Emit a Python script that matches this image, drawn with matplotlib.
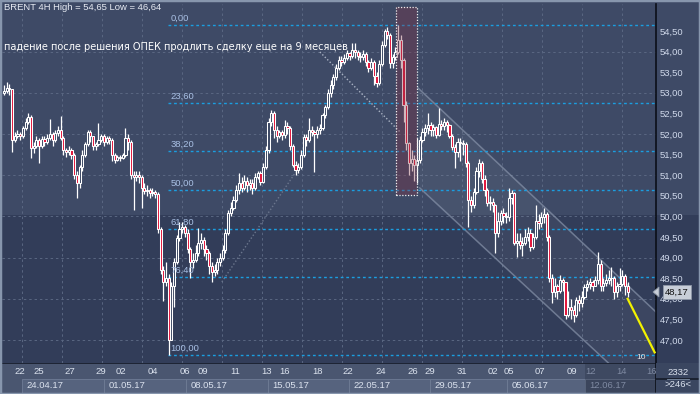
import numpy as np
import matplotlib
matplotlib.use("Agg")
import matplotlib.pyplot as plt
from matplotlib.patches import Rectangle, Polygon

## BRENT 4H candles
closes = [
    53.05, 53.12, 53.08, 51.85, 51.95, 52.0, 51.95, 52.15, 52.3, 52.42,
    51.65, 51.72, 51.85, 51.7, 51.88, 51.8, 51.9, 52.0, 51.85, 52.02,
    52.1, 51.9, 51.6, 51.56, 51.6, 51.5, 51.0, 50.8, 51.2, 51.5,
    51.75, 52.05, 51.95, 51.7, 51.75, 51.85, 51.95, 51.8, 51.9, 51.85,
    51.5, 51.37, 51.45, 51.42, 51.5, 51.9, 51.8, 51.0, 50.95, 51.0,
    50.96, 50.7, 50.62, 50.65, 50.57, 50.6, 50.55, 49.7, 48.7, 48.4,
    48.5, 47.0, 48.3, 48.9, 49.48, 49.7, 49.74, 49.6, 49.2, 48.9,
    48.95, 49.1, 49.35, 49.43, 49.2, 49.11, 48.8, 48.65, 48.7, 48.9,
    49.0, 49.18, 49.6, 50.08, 50.2, 50.4, 50.64, 50.81, 50.7, 50.85,
    50.75, 50.8, 50.7, 50.95, 51.05, 50.83, 51.2, 51.61, 52.3, 52.51,
    52.1, 51.95, 52.05, 51.98, 52.2, 52.15, 51.7, 51.25, 51.13, 51.2,
    51.5, 51.93, 51.85, 52.1, 52.05, 52.0, 52.1, 52.15, 52.45, 52.66,
    53.0, 53.2, 53.38, 53.6, 53.8, 53.75, 53.85, 53.96, 53.9, 54.05,
    53.98, 53.9, 53.87, 53.95, 53.75, 53.6, 53.75, 53.4, 53.24, 53.7,
    54.16, 54.5, 54.4, 53.72, 53.87, 54.0, 54.28, 53.8, 52.7, 51.78,
    51.3, 51.4, 51.25, 51.37, 51.85, 52.05, 52.15, 52.22, 52.1, 52.17,
    51.98, 52.25, 52.2, 52.3, 52.22, 51.95, 51.69, 51.56, 51.8, 51.78,
    51.75, 51.3, 50.4, 50.27, 50.6, 51.1, 51.3, 50.9, 50.64, 50.32,
    50.35, 50.27, 49.6, 49.9, 50.08, 50.0, 49.98, 50.45, 50.57, 49.35,
    49.4, 49.3, 49.35, 49.5, 49.6, 49.25, 49.5, 49.9, 49.85, 49.98,
    50.05, 49.5, 48.5, 48.16, 48.3, 48.2, 48.45, 48.4, 47.61, 47.8,
    47.73, 47.6, 47.97, 47.9, 48.05, 48.29, 48.35, 48.41, 48.3, 48.45,
    48.85, 48.3, 48.38, 48.45, 48.5, 48.5, 48.16, 48.3, 48.35, 48.55, 48.3, 48.17,
]
highs = [
    53.2, 53.26, 53.22, 53.1, 52.05, 52.1, 52.05, 52.2, 52.4, 52.5,
    52.45, 51.8, 51.95, 51.9, 51.95, 51.95, 52.0, 52.36, 52.05, 52.1,
    52.2, 52.43, 51.95, 51.65, 51.7, 51.65, 51.55, 51.1, 51.25, 51.6,
    51.8, 52.1, 52.1, 51.95, 51.8, 52.26, 52.0, 52.0, 51.95, 51.95,
    51.9, 51.55, 51.5, 51.5, 51.55, 52.14, 52.0, 51.85, 51.1, 51.1,
    51.1, 51.0, 50.8, 50.75, 50.7, 50.7, 50.65, 50.6, 49.75, 48.8,
    48.9, 48.6, 48.4, 49.0, 49.55, 49.86, 49.86, 49.8, 49.7, 49.25,
    49.1, 49.3, 49.72, 49.6, 49.5, 49.3, 49.15, 48.9, 48.85, 49.0,
    49.1, 49.3, 49.7, 50.15, 50.35, 50.5, 50.75, 51.05, 50.95, 51.0,
    50.95, 50.9, 50.9, 51.05, 51.1, 51.1, 51.3, 51.7, 52.4, 52.58,
    52.55, 52.2, 52.1, 52.1, 52.34, 52.3, 52.2, 51.75, 51.35, 51.3,
    51.6, 52.0, 52.0, 52.39, 52.2, 52.1, 52.2, 52.25, 52.5, 52.7,
    53.1, 53.3, 53.45, 53.7, 53.9, 53.9, 53.95, 54.05, 54.0, 54.2,
    54.2, 54.05, 54.0, 54.05, 54.0, 53.8, 53.85, 53.8, 53.5, 53.8,
    54.25, 54.55, 54.6, 54.45, 53.95, 54.1, 54.65, 54.4, 53.85, 52.8,
    51.8, 51.6, 51.5, 51.9, 51.95, 52.15, 52.25, 52.51, 52.3, 52.25,
    52.2, 52.63, 52.35, 52.4, 52.35, 52.25, 52.0, 51.75, 51.9, 51.9,
    51.85, 51.8, 51.35, 50.5, 50.7, 51.2, 51.4, 51.35, 51.0, 50.7,
    50.5, 50.45, 50.3, 50.1, 50.15, 50.2, 50.1, 50.7, 50.65, 50.6,
    49.6, 49.6, 49.5, 49.7, 49.75, 49.7, 49.6, 50.27, 50.05, 50.1,
    50.2, 50.1, 49.55, 48.6, 48.5, 48.35, 48.57, 48.5, 48.4, 48.2,
    48.0, 47.85, 48.05, 48.1, 48.2, 48.35, 48.45, 48.5, 48.45, 48.55,
    49.14, 48.95, 48.5, 48.6, 48.7, 48.77, 48.55, 48.4, 48.75, 48.7, 48.6, 48.4,
]
lows = [
    52.95, 53.0, 52.95, 51.56, 51.8, 51.9, 51.85, 51.9, 52.1, 52.25,
    51.42, 51.55, 51.65, 51.3, 51.65, 51.7, 51.75, 51.85, 51.7, 51.8,
    51.95, 51.85, 51.5, 51.45, 51.5, 51.4, 50.9, 50.45, 50.7, 51.1,
    51.45, 51.7, 51.8, 51.6, 51.6, 51.7, 51.8, 51.7, 51.75, 51.75,
    51.35, 51.3, 51.35, 51.35, 51.4, 51.45, 51.6, 50.9, 50.16, 50.85,
    50.8, 50.2, 50.55, 50.5, 50.45, 50.5, 50.45, 49.6, 48.6, 47.95,
    48.3, 46.64, 47.1, 47.8, 48.85, 49.4, 49.6, 49.5, 49.1, 48.5,
    48.75, 48.9, 49.05, 49.2, 49.05, 48.95, 48.6, 48.41, 48.55, 48.6,
    48.8, 48.95, 49.1, 49.55, 50.0, 50.15, 50.35, 50.55, 50.6, 50.65,
    50.6, 50.65, 50.55, 50.65, 50.9, 50.75, 50.8, 51.15, 51.55, 52.2,
    51.9, 51.8, 51.9, 51.85, 51.9, 52.0, 51.6, 51.2, 51.0, 51.05,
    51.15, 51.45, 51.7, 51.8, 51.95, 51.08, 51.9, 52.0, 52.1, 52.4,
    52.6, 52.9, 53.1, 53.3, 53.55, 53.65, 53.7, 53.8, 53.8, 53.85,
    53.85, 53.8, 53.75, 53.8, 53.65, 53.5, 53.55, 53.2, 53.15, 53.2,
    53.65, 54.1, 54.3, 53.6, 53.6, 53.8, 53.95, 53.6, 52.3, 51.6,
    51.0, 51.1, 50.85, 50.8, 51.3, 51.8, 51.95, 52.0, 51.95, 51.95,
    51.9, 51.95, 52.1, 52.1, 52.05, 51.9, 51.6, 51.17, 51.45, 51.35,
    51.5, 51.2, 49.74, 50.1, 50.2, 50.55, 50.95, 50.8, 50.5, 50.25,
    50.15, 50.1, 49.1, 49.5, 49.8, 49.85, 49.85, 49.9, 50.3, 49.3,
    49.02, 49.2, 49.05, 49.3, 49.4, 49.15, 49.2, 49.45, 49.7, 49.75,
    49.85, 49.4, 48.4, 47.9, 48.05, 48.0, 48.15, 48.2, 47.5, 47.55,
    47.5, 47.44, 47.55, 47.7, 47.8, 48.0, 48.2, 48.25, 48.2, 48.3,
    48.35, 48.2, 48.2, 48.3, 48.35, 48.3, 48.0, 48.05, 48.2, 48.3, 48.1, 48.05,
]
first_open = 53.0

fib_levels = [0.0, 23.6, 38.2, 50.0, 61.8, 76.4, 100.0]
fib_high, fib_low = 54.65, 46.64

forecast_x = [231, 241]          # yellow projection
forecast_y = [48.0, 46.7]

day_labels = ['22', '25', '27', '29', '02', '04', '06', '09', '11', '13', '16', '18',
              '22', '24', '26', '29', '31', '02', '05', '07', '09', '12', '14', '16']
day_pos = [5.9, 13, 24.4, 35.9, 43.3, 55.2, 67, 73.7, 85.6, 97.4, 104, 116,
           127.4, 139.6, 151.5, 157.8, 169.6, 181, 187, 198.5, 210.4, 217.4, 228.9, 240]
week_labels = ['24.04.17', '01.05.17', '08.05.17', '15.05.17', '22.05.17',
               '29.05.17', '05.06.17', '12.06.17']
week_start = [6.7, 37, 67.4, 97.8, 127.8, 157.8, 186.3, 215.2]
future_start = 215.2

price_ticks = [54.5, 54.0, 53.5, 53.0, 52.5, 52.0, 51.5, 51.0, 50.5, 50.0,
               49.5, 49.0, 48.5, 48.0, 47.5, 47.0]
last_price = 48.17

title = "BRENT 4H High = 54,65 Low = 46,64"
note = "падение после решения ОПЕК продлить сделку еще на 9 месяцев"

## colours
BG_TOP = '#3e4a66'
BG_BOT = '#323d59'
RED = '#e3163c'
FIB = '#1b9ee0'
TXT = '#cfd8ea'

W, H = 700, 394
XMIN, XMAX = -0.74, 241.5
YMIN, YMAX = 46.442, 55.155

def fx(px):
    return px / W

def fy(py):
    return 1 - py / H

fig = plt.figure(figsize=(7, 3.94), dpi=100)
fig.patch.set_facecolor(BG_BOT)

## background bands
bgax = fig.add_axes([0, 0, 1, 1], zorder=-5)
rows = np.zeros((H, 1, 3))
rows[:215] = matplotlib.colors.to_rgb(BG_TOP)
rows[215:] = matplotlib.colors.to_rgb(BG_BOT)
bgax.imshow(rows, extent=[0, 1, 0, 1], aspect='auto', interpolation='nearest')
bgax.axis('off')

ax = fig.add_axes([fx(2), fy(363), fx(654), (363 - 4) / H])
ax.set_facecolor('none')
ax.set_xlim(XMIN, XMAX)
ax.set_ylim(YMIN, YMAX)
for s in ax.spines.values():
    s.set_visible(False)
ax.spines['right'].set_visible(True)
ax.spines['right'].set_color('#0b0f18')
ax.spines['right'].set_linewidth(1.2)
ax.set_xticks([])
ax.yaxis.tick_right()
ax.set_yticks(price_ticks)
ax.set_yticklabels([f"{p:.2f}".replace('.', ',') for p in price_ticks],
                   fontsize=6.8, color=TXT, family='Liberation Sans')
ax.tick_params(axis='y', length=0, pad=3)

## grid
for px in np.arange(22, 656, 40):
    ax.axvline((px - 4) / 2.7, color='#5a6782', lw=0.7, ls=(0, (2.5, 3)), zorder=1)
for p in range(47, 55):
    ax.axhline(p, color='#5a6782', lw=0.7, ls=(0, (2.5, 3)), zorder=1)

## channel
up_line = [(153.3, 53.12), (241.5, 47.68)]
lo_line = [(154.0, 50.69), (241.5, 45.37)]
ax.add_patch(Polygon([up_line[0], up_line[1], lo_line[1], lo_line[0]],
                     closed=True, facecolor='white', alpha=0.05, lw=0, zorder=1.5))
for ln in (up_line, lo_line):
    ax.plot([ln[0][0], ln[1][0]], [ln[0][1], ln[1][1]], color='#8793aa',
            lw=1.1, alpha=0.7, zorder=1.6)

## fan dotted lines
ax.plot([117, 146.7], [53.99, 52.05], color='#aab3c4', lw=1, ls=(0, (1, 1.5)), zorder=2.5)
ax.plot([80.7, 108.1], [48.41, 51.08], color='#6b768d', lw=1, ls=(0, (1, 1.5)), zorder=2.5)

## fibonacci levels
for lvl in fib_levels:
    p = fib_high - lvl / 100 * (fib_high - fib_low)
    ax.plot([60.7, XMAX], [p, p], color=FIB, lw=1, ls=(0, (2, 2)), zorder=2)
    ax.text(61.6, p + 0.05, f"{lvl:.2f}".replace('.', ','), fontsize=6.8,
            color='#a9c0e4', family='Liberation Sans', va='bottom', ha='left', zorder=7)

## candles
c = np.array(closes)
h = np.array(highs)
l = np.array(lows)
o = np.concatenate([[first_open], c[:-1]])
idx = np.arange(len(c))
bull = c >= o
ax.vlines(idx, l, h, color='white', lw=0.9, zorder=3)
ax.bar(idx[bull], (c - o)[bull], bottom=o[bull], width=0.8, color=BG_TOP,
       edgecolor='white', linewidth=0.75, zorder=4)
ax.bar(idx[~bull], (c - o)[~bull], bottom=o[~bull], width=0.8, color=RED,
       edgecolor='white', linewidth=0.75, zorder=4)

## highlighted OPEC bars
ax.add_patch(Rectangle((145.2, 50.52), 7.8, 4.56, facecolor='#813244', alpha=0.35,
                       lw=0, zorder=5))
ax.add_patch(Rectangle((145.2, 50.52), 7.8, 4.56, fill=False, edgecolor='#eeeeee',
                       lw=0.9, ls=(0, (1, 1.3)), zorder=5.5))

## projection
ax.plot(forecast_x, forecast_y, color='#f2f200', lw=1.6, zorder=6, clip_on=False)
ax.text(234.4, 46.5, '10', fontsize=6, color='#e6e6e6', ha='left', va='bottom',
        family='Liberation Sans', zorder=7)

## price tag
fig.text(fx(677), fy(292), f"{last_price:.2f}".replace('.', ','), fontsize=6.8,
         color='#111111', ha='center', va='center', family='Liberation Sans',
         bbox=dict(boxstyle='square,pad=0.25', facecolor='#c8ced8', edgecolor='#8e98a8', lw=0.6))
fig.patches.append(Polygon([[fx(653), fy(292)], [fx(659), fy(287)], [fx(659), fy(297)]],
                           closed=True, transform=fig.transFigure, facecolor='#c8ced8',
                           edgecolor='#8e98a8', lw=0.6))

## texts
fig.text(fx(4), fy(8), title, fontsize=6.8, color='#e8ecf4', va='center', ha='left',
         family='Liberation Sans')
fig.text(fx(4), fy(47), note, fontsize=7.0, color='white', va='center', ha='left',
         family='DejaVu Sans')

## time axis
tax = fig.add_axes([fx(2), 0, fx(654), 31 / H])
tax.set_facecolor('#4a5670')
tax.set_xlim(XMIN, XMAX)
tax.set_ylim(31, 0)
tax.set_xticks([])
tax.set_yticks([])
for s in tax.spines.values():
    s.set_visible(False)
tax.axhline(0.3, color='#151b28', lw=1.2)
for lab, pos in zip(day_labels, day_pos):
    col = '#7f8aa2' if pos > future_start else '#dbe2ee'
    tax.text(pos, 9, lab, fontsize=6.8, color=col, ha='center', va='center',
             family='Liberation Sans')
wk_end = week_start[1:] + [XMAX]
for lab, s0, s1 in zip(week_labels, week_start, wk_end):
    fut = s0 >= future_start
    tax.add_patch(Rectangle((s0, 16), s1 - s0, 13.5, facecolor='#45516a' if fut else '#56637e',
                            edgecolor='#6f7c95', lw=0.6))
    tax.text(s0 + 1.6, 23, lab, fontsize=6.8, color='#7f8aa2' if fut else '#dbe2ee',
             ha='left', va='center', family='Liberation Sans')
tax.add_patch(Rectangle((future_start, 0.6), XMAX - future_start, 30.4, facecolor='#1e2536',
                        alpha=0.25, lw=0))
tax.axvline(XMAX, color='#0b0f18', lw=1.2)

## bottom right counters
rax = fig.add_axes([fx(656), 0, fx(44), 31 / H])
rax.set_facecolor('#3a4660')
rax.set_xticks([])
rax.set_yticks([])
for s in rax.spines.values():
    s.set_visible(False)
rax.axhline(1, color='#151b28', lw=1.2)
rax.text(0.5, 0.69, '2332', fontsize=6.8, color='#dbe2ee', ha='center', va='center',
         family='Liberation Sans', transform=rax.transAxes)
rax.plot([0.25, 0.75], [0.5, 0.5], color='#8090a8', lw=0.6, transform=rax.transAxes)
rax.text(0.5, 0.3, '>246<', fontsize=6.8, color='#dbe2ee', ha='center', va='center',
         family='Liberation Sans', transform=rax.transAxes)

## outer frame
fig.patches.append(Rectangle((0, 0), 1, 1, transform=fig.transFigure, fill=False,
                             edgecolor='#8796ad', lw=2.5))

plt.savefig('out.png', dpi=100, facecolor=fig.get_facecolor())
